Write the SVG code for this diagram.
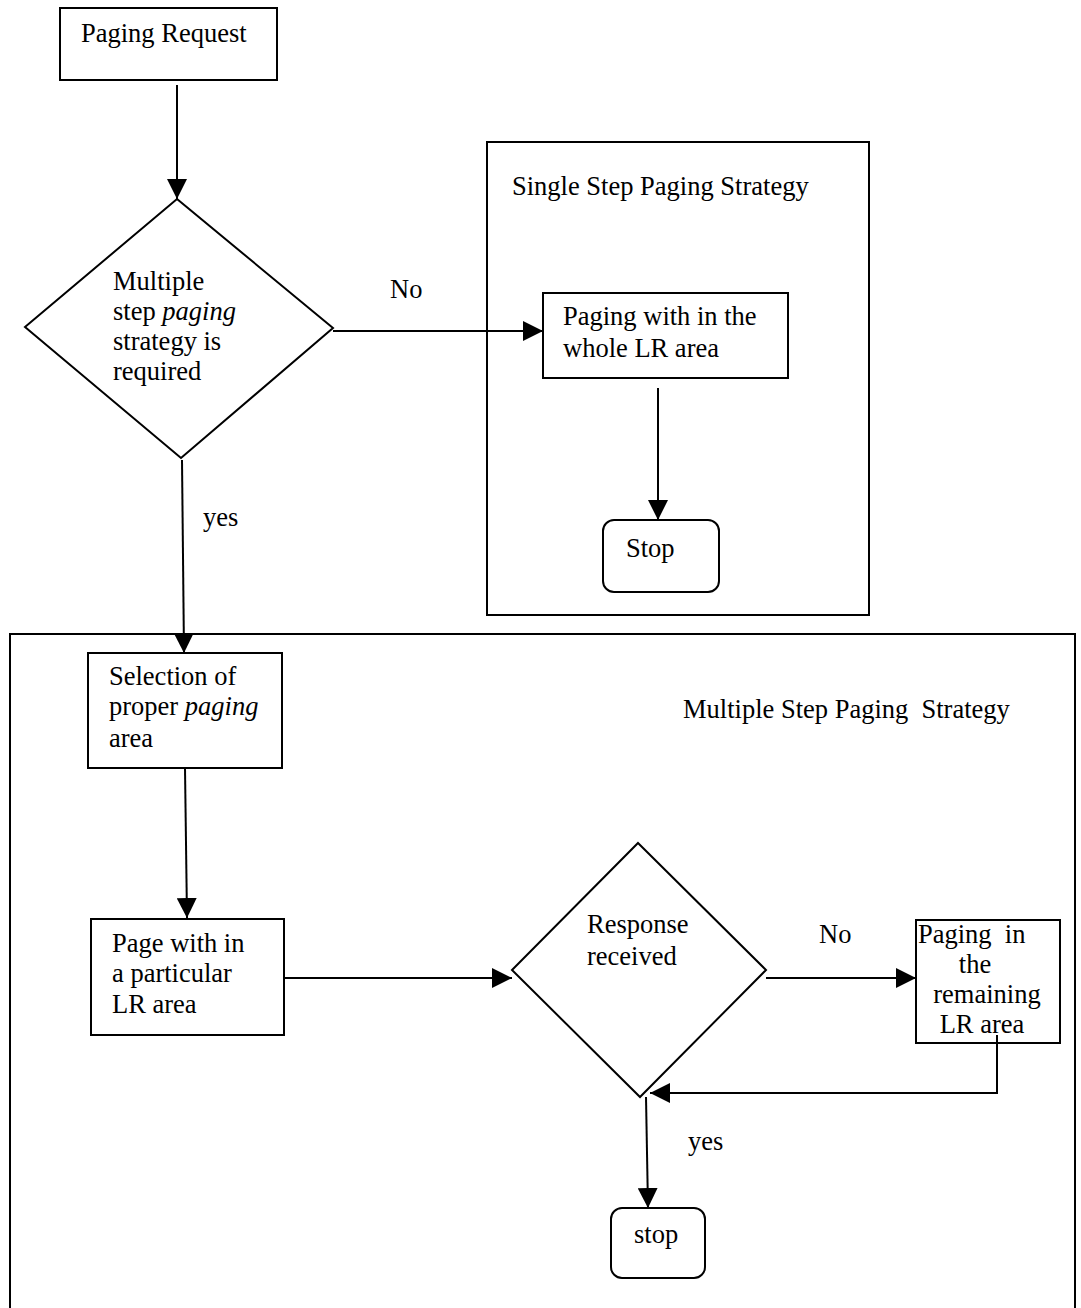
<svg xmlns="http://www.w3.org/2000/svg" width="1081" height="1308" viewBox="0 0 1081 1308">
<style>
text{font-family:"Liberation Serif","Times New Roman",serif;font-size:26.5px;fill:#000}
.b{fill:#fff;stroke:#000;stroke-width:2}
.f{fill:none;stroke:#000;stroke-width:2}
.c{fill:none;stroke:#000;stroke-width:2;marker-end:url(#ah)}
.i{font-style:italic}
</style>
<defs>
<marker id="ah" viewBox="0 0 20 20" refX="20" refY="10" markerWidth="20" markerHeight="20" markerUnits="userSpaceOnUse" orient="auto">
<path d="M0,0 L20,10 L0,20 z" fill="#000"/>
</marker>
</defs>
<rect width="1081" height="1308" fill="#fff"/>
<g id="single-step-region">
<rect class="f" x="487" y="142" width="382" height="473"/>
<text x="512" y="195">Single Step Paging Strategy</text>
</g>
<g id="multiple-step-region">
<rect class="f" x="10" y="634" width="1065" height="690"/>
<text x="683" y="718" xml:space="preserve">Multiple Step Paging  Strategy</text>
</g>
<g id="paging-request">
<rect class="b" x="60" y="8" width="217" height="72"/>
<text x="81" y="42">Paging Request</text>
</g>
<g id="decision-multiple">
<polygon class="b" points="177,199 333,328 181,458 25,327"/>
<text x="113" y="290">Multiple</text>
<text x="113" y="320">step <tspan class="i">paging</tspan></text>
<text x="113" y="350">strategy is</text>
<text x="113" y="380">required</text>
</g>
<g id="paging-whole">
<rect class="b" x="543" y="293" width="245" height="85"/>
<text x="563" y="325">Paging with in the</text>
<text x="563" y="357">whole LR area</text>
</g>
<g id="stop-1">
<rect class="b" x="603" y="520" width="116" height="72" rx="11"/>
<text x="626" y="557">Stop</text>
</g>
<g id="selection">
<rect class="b" x="88" y="653" width="194" height="115"/>
<text x="109" y="685">Selection of</text>
<text x="109" y="715">proper <tspan class="i">paging</tspan></text>
<text x="109" y="747">area</text>
</g>
<g id="page-particular">
<rect class="b" x="91" y="919" width="193" height="116"/>
<text x="112" y="952">Page with in</text>
<text x="112" y="982">a particular</text>
<text x="112" y="1013">LR area</text>
</g>
<g id="decision-response">
<polygon class="b" points="638,843 766,970 640,1097 512,970"/>
<text x="587" y="933">Response</text>
<text x="587" y="965">received</text>
</g>
<g id="paging-remaining">
<rect class="b" x="916" y="920" width="144" height="123"/>
<text x="918" y="943" xml:space="preserve">Paging  in</text>
<text x="975" y="973" text-anchor="middle">the</text>
<text x="987" y="1003" text-anchor="middle">remaining</text>
<text x="982" y="1033" text-anchor="middle">LR area</text>
</g>
<g id="stop-2">
<rect class="b" x="611" y="1208" width="94" height="70" rx="11"/>
<text x="634" y="1243">stop</text>
</g>
<g id="connectors">
<path class="c" d="M177,85 L177,199"/>
<path class="c" d="M333,331 L543,331"/>
<path class="c" d="M658,388 L658,520"/>
<path class="c" d="M182,460 L184,653"/>
<path class="c" d="M185,768 L187,918"/>
<path class="c" d="M284,978 L512,978"/>
<path class="c" d="M766,978 L916,978"/>
<path class="c" d="M997,1035 L997,1093 L650,1093"/>
<path class="c" d="M646,1097 L648,1208"/>
<text x="390" y="298">No</text>
<text x="203" y="526">yes</text>
<text x="819" y="943">No</text>
<text x="688" y="1150">yes</text>
</g>
</svg>
